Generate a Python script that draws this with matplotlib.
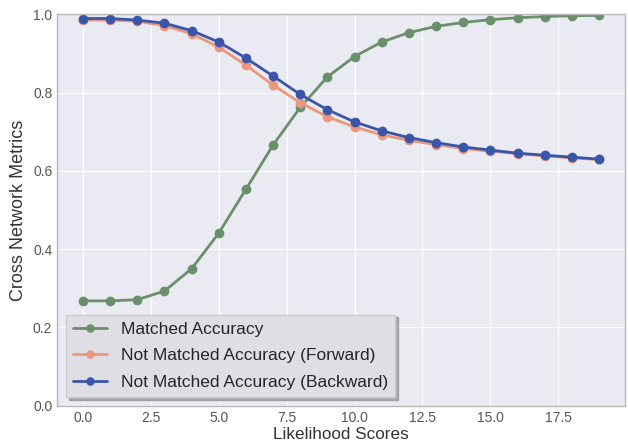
import numpy as np
import matplotlib
matplotlib.use('Agg')
import matplotlib.pyplot as plt

plt.style.use('seaborn-v0_8-darkgrid')

# values
scores = list(range(20))
matched = [0.268, 0.268, 0.271, 0.293, 0.350, 0.441, 0.553, 0.666, 0.762, 0.840,
           0.892, 0.929, 0.953, 0.969, 0.979, 0.986, 0.991, 0.994, 0.996, 0.997]
forward = [0.985, 0.985, 0.982, 0.971, 0.950, 0.916, 0.870, 0.819, 0.774, 0.738,
           0.712, 0.692, 0.678, 0.667, 0.657, 0.650, 0.644, 0.638, 0.633, 0.629]
backward = [0.989, 0.989, 0.985, 0.977, 0.958, 0.929, 0.888, 0.842, 0.795, 0.756,
            0.725, 0.702, 0.685, 0.672, 0.661, 0.653, 0.645, 0.640, 0.635, 0.630]

fig = plt.figure(figsize=(6.28, 4.44), dpi=100)
ax = fig.add_axes([0.091, 0.086, 0.904, 0.882])

ax.plot(scores, matched, '-o', color='#6b8f6b', lw=2, ms=6, label='Matched Accuracy')
ax.plot(scores, forward, '-o', color='#eb977c', lw=2, ms=6, label='Not Matched Accuracy (Forward)')
ax.plot(scores, backward, '-o', color='#3b56a9', lw=2, ms=6, label='Not Matched Accuracy (Backward)')

ax.set_ylim(0, 1.0)
ax.set_xlabel('Likelihood Scores', fontsize=12.3, color='#333333', labelpad=2)
ax.set_ylabel('Cross Network Metrics', fontsize=13, color='#333333')
ax.tick_params(labelsize=10, labelcolor='#555555')
for s in ax.spines.values():
    s.set_visible(True)
    s.set_color('#b8b8b8')
    s.set_linewidth(1)

leg = ax.legend(loc='lower left', fontsize=12.5, frameon=True, fancybox=False,
                labelspacing=0.67, markerscale=0.85,
                shadow={'color': '#909090', 'alpha': 0.7})
leg.get_frame().set_facecolor('#dedee4')
leg.get_frame().set_edgecolor('#cccccc')

plt.savefig('out.png', dpi=100)
